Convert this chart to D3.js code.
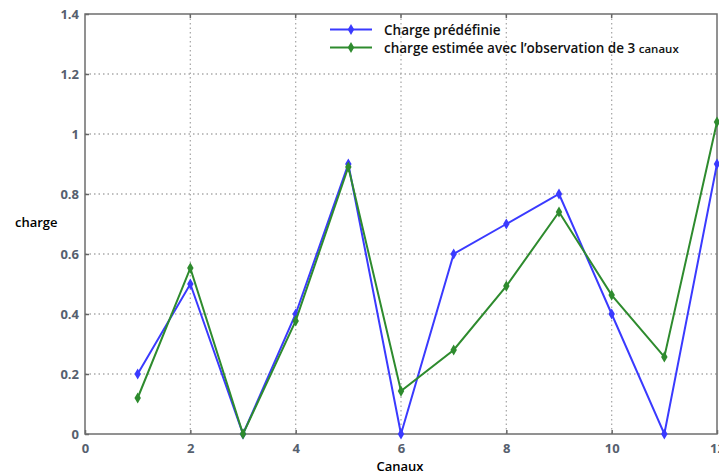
<!DOCTYPE html>
<html>
<head>
<meta charset="utf-8">
<script src="https://cdn.jsdelivr.net/npm/d3@7"></script>
<style>
  body { margin: 0; background: #fff; }
  text { font-family: "Open Sans", sans-serif; }
</style>
</head>
<body>
<div id="chart"></div>
<script>
// channels 1..12
const canaux = [1, 2, 3, 4, 5, 6, 7, 8, 9, 10, 11, 12];
const chargePredefinie = [0.2, 0.5, 0, 0.4, 0.9, 0, 0.6, 0.7, 0.8, 0.4, 0, 0.9];
const chargeEstimee = [0.12, 0.553, 0, 0.377, 0.89, 0.143, 0.28, 0.493, 0.74, 0.463, 0.257, 1.04];
const xTicks = [0, 2, 4, 6, 8, 10, 12];
const yTicks = [0, 0.2, 0.4, 0.6, 0.8, 1, 1.2, 1.4];

const W = 719, H = 475;
const margin = { top: 14, right: 1, bottom: 41, left: 85 };

const svg = d3.select("#chart").append("svg")
    .attr("width", W)
    .attr("height", H);

const x = d3.scaleLinear().domain([0, 12]).range([margin.left, W - margin.right - 1]);
const y = d3.scaleLinear().domain([0, 1.4]).range([H - margin.bottom, margin.top]);

// dotted grid
svg.append("g").selectAll("line")
    .data(xTicks.slice(1, -1))
    .join("line")
    .attr("x1", d => x(d)).attr("x2", d => x(d))
    .attr("y1", y(0)).attr("y2", y(1.4))
    .attr("stroke", "#aaa").attr("stroke-width", 1.3)
    .attr("stroke-dasharray", "1.5,3");

svg.append("g").selectAll("line")
    .data(yTicks.slice(1, -1))
    .join("line")
    .attr("x1", x(0)).attr("x2", x(12))
    .attr("y1", d => y(d)).attr("y2", d => y(d))
    .attr("stroke", "#aaa").attr("stroke-width", 1.3)
    .attr("stroke-dasharray", "1.5,3");

// axes, ticks inward
const xAxis = svg.append("g")
    .attr("transform", `translate(0,${y(0)})`)
    .call(d3.axisBottom(x).tickValues(xTicks).tickSize(-4).tickPadding(10).tickFormat(d3.format("d")));
const yAxis = svg.append("g")
    .attr("transform", `translate(${x(0)},0)`)
    .call(d3.axisLeft(y).tickValues(yTicks).tickSize(-4).tickPadding(6).tickFormat(d => d));

[xAxis, yAxis].forEach(g => {
    g.select(".domain").remove();
    g.selectAll(".tick line").attr("stroke", "#666").attr("stroke-width", 1.5);
    g.selectAll(".tick text")
        .attr("fill", "#56606e")
        .attr("font-family", "Liberation Sans, Arial, sans-serif")
        .attr("font-weight", "bold")
        .attr("font-size", 13);
});

// top ticks too
svg.append("g").selectAll("line")
    .data(xTicks.slice(1, -1))
    .join("line")
    .attr("x1", d => x(d)).attr("x2", d => x(d))
    .attr("y1", y(1.4)).attr("y2", y(1.4) + 4)
    .attr("stroke", "#666").attr("stroke-width", 1.5);

// frame
svg.append("rect")
    .attr("x", x(0)).attr("y", y(1.4))
    .attr("width", x(12) - x(0)).attr("height", y(0) - y(1.4))
    .attr("fill", "none").attr("stroke", "#6e6e6e").attr("stroke-width", 1.5);

const line = d3.line()
    .x((d, i) => x(canaux[i]))
    .y(d => y(d));

const series = [
    { name: "Charge prédéfinie", values: chargePredefinie, color: "#3a3aff" },
    { name: "charge estimée avec l\u2019observation de 3 ", small: "canaux", values: chargeEstimee, color: "#2e8b2e" }
];

const diamond = d3.symbol().type(d3.symbolDiamond).size(36);

series.forEach(s => {
    svg.append("path")
        .datum(s.values)
        .attr("d", line)
        .attr("fill", "none")
        .attr("stroke", s.color)
        .attr("stroke-width", 2);
    svg.append("g").selectAll("path")
        .data(s.values)
        .join("path")
        .attr("d", diamond)
        .attr("transform", (d, i) => `translate(${x(canaux[i])},${y(d)})`)
        .attr("fill", s.color);
});

// legend
const legend = svg.append("g").attr("transform", "translate(330,29.5)");
series.forEach((s, i) => {
    const row = legend.append("g").attr("transform", `translate(0,${i * 18})`);
    row.append("line")
        .attr("x1", 0).attr("x2", 42)
        .attr("stroke", s.color).attr("stroke-width", 2);
    row.append("path")
        .attr("d", diamond)
        .attr("transform", "translate(21,0)")
        .attr("fill", s.color);
    const t = row.append("text")
        .attr("x", 54).attr("y", 5)
        .attr("font-size", 13.5)
        .attr("font-weight", 600)
        .attr("fill", "#111")
        .text(s.name);
    if (s.small) t.append("tspan").attr("font-size", 11.5).text(s.small);
});

// axis titles
svg.append("text")
    .attr("x", 400).attr("y", 471)
    .attr("text-anchor", "middle")
    .attr("font-size", 13).attr("font-weight", 600)
    .text("Canaux");

svg.append("text")
    .attr("x", 15).attr("y", 227)
    .attr("font-size", 13).attr("font-weight", 600)
    .text("charge");
</script>
</body>
</html>
